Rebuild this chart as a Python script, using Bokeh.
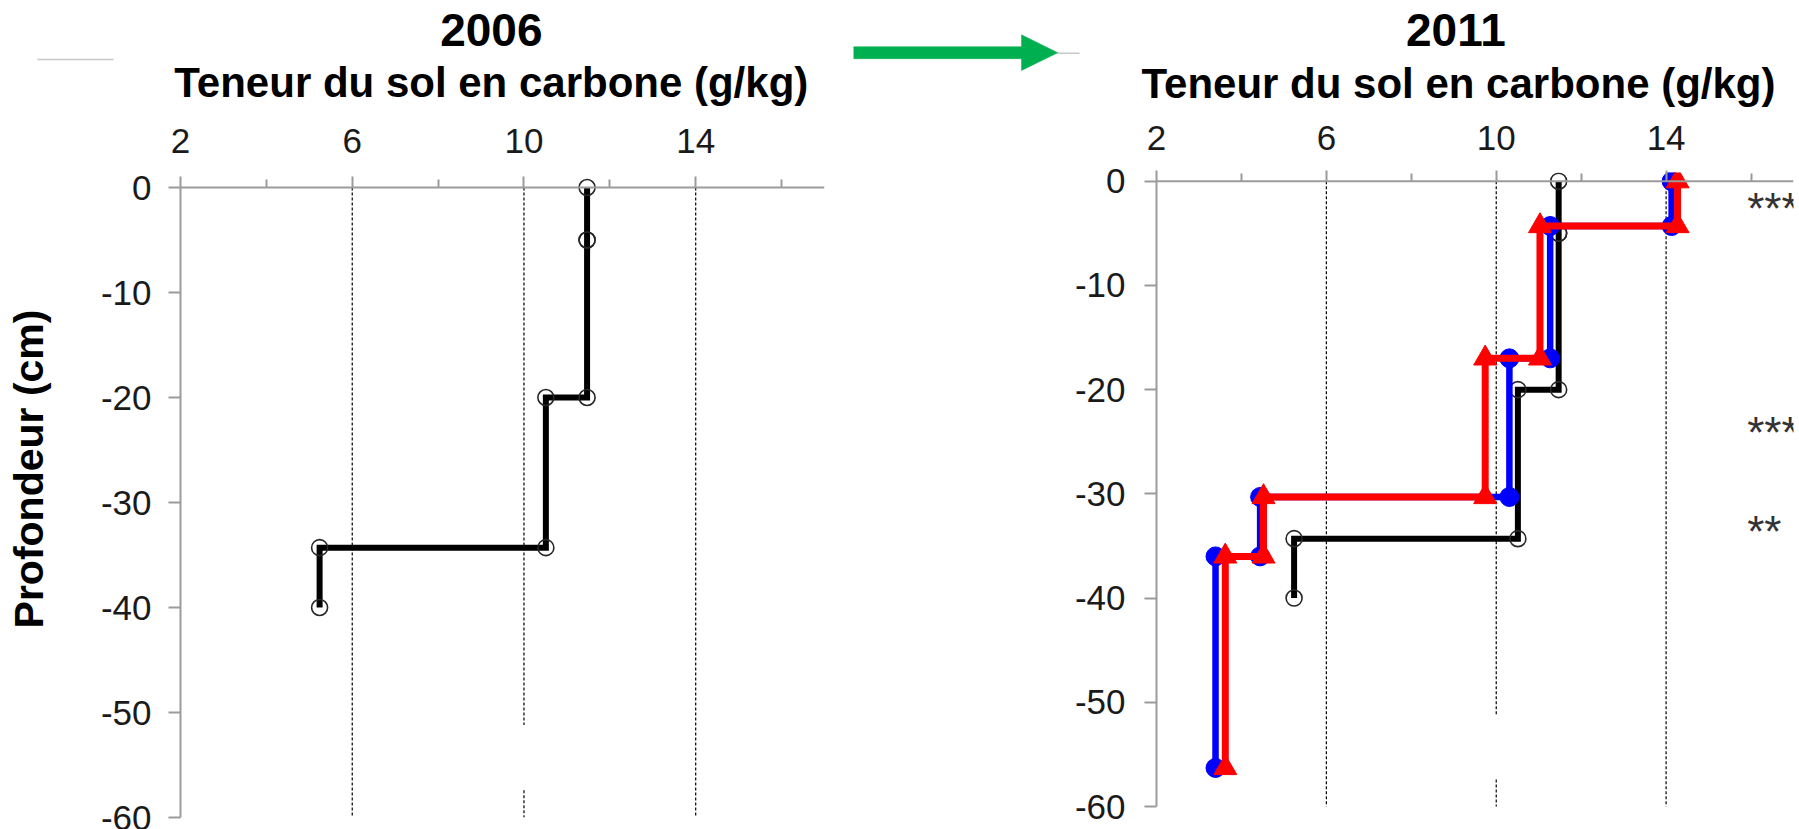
import math
from bokeh.plotting import figure
from bokeh.models import Range1d, FixedTicker, Span
from bokeh.layouts import row, column
from bokeh.embed import file_html
from bokeh.resources import INLINE
from bokeh.core.properties import value

# ---------------- data ----------------
panel_titles = ["2006", "2011"]
x_axis_title = "Teneur du sol en carbone (g/kg)"
y_axis_title = "Profondeur (cm)"
x_ticks = [2, 6, 10, 14]
x_tick_labels = ["2", "6", "10", "14"]
x_minor_ticks = [4, 8, 12, 16]
y_ticks = [0, -10, -20, -30, -40, -50, -60]
y_tick_labels = ["0", "-10", "-20", "-30", "-40", "-50", "-60"]
grid_x = [6, 10, 14]

# 2006 reference profile (black, open circles): layer top/bottom depth (cm), carbon (g/kg)
ref_top = [0, 5, 20, 34.3]
ref_bottom = [5, 20, 34.3, 40]
ref_carbon = [11.47, 11.47, 10.51, 5.24]

# 2011 profiles (blue circles, red triangles), shared layers
new_top = [0, 4.3, 17, 30.3, 36]
new_bottom = [4.3, 17, 30.3, 36, 56.3]
blue_carbon = [14.13, 11.27, 10.31, 4.44, 3.39]
red_carbon = [14.27, 11.03, 9.74, 4.52, 3.62]

# significance marks (2011)
sig_depth = [2.2, 23.7, 33.2]
sig_labels = ["***", "***", "**"]

# ---------------- styling / layout ----------------
W, H = 1799, 829
HEAD_H = 107          # header strip with titles and arrow
YLAB_W = 62           # strip with the vertical axis title
P2_LEFT = 1060        # page x where the 2011 panel starts
FR_TOP, FR_BOT = 172, 817   # common frame top / bottom (page px) of the panels row
PANEL_H = H - HEAD_H
B_TOP, B_BOT = FR_TOP - HEAD_H, H - FR_BOT
AXIS_GRAY = "#9b9b9b"
TICK_COLOR = "#1a1a1a"
FONT = "Liberation Sans"


def steps(top, bottom, carbon):
    xs, ys = [], []
    for t, b, c in zip(top, bottom, carbon):
        xs += [c, c]
        ys += [-t, -b]
    return xs, ys


def blank_fig(width, height, x0, x1, y0, y1, b_top=0, b_bot=0):
    f = figure(width=width, height=height, x_range=Range1d(x0, x1), y_range=Range1d(y0, y1),
               x_axis_type=None, y_axis_type=None, title=None, output_backend="svg",
               toolbar_location=None, min_border=0, min_border_top=b_top, min_border_bottom=b_bot)
    f.outline_line_color = None
    f.grid.visible = False
    f.background_fill_color = "white"
    f.border_fill_color = "white"
    return f


def make_panel(width, b_left, b_right, zero_pg, m60_pg, label_baseline_pg, ylab_standoff):
    k = (m60_pg - zero_pg) / 60.0              # px per cm
    y_start = -60 - (FR_BOT - m60_pg) / k
    y_end = (zero_pg - FR_TOP) / k
    ext = int(round(zero_pg - FR_TOP))
    p = figure(width=width, height=PANEL_H, x_range=Range1d(2, 17), y_range=Range1d(y_start, y_end),
               x_axis_location="above", title=None, output_backend="svg", toolbar_location=None,
               min_border_left=b_left, min_border_right=b_right,
               min_border_top=B_TOP, min_border_bottom=B_BOT)
    p.outline_line_color = None
    p.grid.visible = False
    p.background_fill_color = "white"
    p.border_fill_color = "white"

    xa = p.xaxis[0]
    xa.ticker = FixedTicker(ticks=x_ticks, minor_ticks=x_minor_ticks)
    xa.major_label_overrides = dict(zip(x_ticks, x_tick_labels))
    xa.axis_line_color = None
    xa.major_tick_in = ext
    xa.major_tick_out = 11 - ext
    xa.minor_tick_in = ext
    xa.minor_tick_out = 8 - ext
    xa.major_tick_line_color = AXIS_GRAY
    xa.minor_tick_line_color = AXIS_GRAY
    xa.major_tick_line_width = 2
    xa.minor_tick_line_width = 2
    xa.major_label_text_font = FONT
    xa.major_label_text_font_size = "35px"
    xa.major_label_text_color = TICK_COLOR
    dist = FR_TOP + 2 - label_baseline_pg
    xa.major_label_standoff = int(round(dist - (11 - ext)))

    ya = p.yaxis[0]
    ya.ticker = FixedTicker(ticks=y_ticks, minor_ticks=[])
    ya.major_label_overrides = dict(zip(y_ticks, y_tick_labels))
    ya.bounds = (-60, 0)
    ya.axis_line_color = AXIS_GRAY
    ya.axis_line_width = 2
    ya.major_tick_in = 0
    ya.major_tick_out = 12
    ya.major_tick_line_color = AXIS_GRAY
    ya.major_tick_line_width = 2
    ya.minor_tick_line_color = None
    ya.major_label_text_font = FONT
    ya.major_label_text_font_size = "35px"
    ya.major_label_text_color = TICK_COLOR
    ya.major_label_standoff = ylab_standoff

    # zero line (the x axis line of the original sits at depth 0)
    p.add_layout(Span(location=0, dimension="width", line_color=AXIS_GRAY, line_width=2))

    # dashed vertical grid lines (the one at 10 is interrupted in the original)
    x0, y0, x1, y1 = [], [], [], []
    for g in grid_x:
        if g == 10:
            x0 += [g, g]; x1 += [g, g]
            y0 += [0, -57.4]; y1 += [-51.2, -60]
        else:
            x0.append(g); x1.append(g); y0.append(0); y1.append(-60)
    p.segment(x0=x0, y0=y0, x1=x1, y1=y1, line_color="black", line_width=1.2, line_dash="3 2")
    return p, k


def draw_ref(p):
    rx, ry = steps(ref_top, ref_bottom, ref_carbon)
    p.line(rx, ry, line_color="black", line_width=6, line_join="miter")
    p.scatter(rx, ry, marker="circle", size=16, fill_color=None, line_color="#262626", line_width=1.6)


# ---------------- panel 2006 ----------------
p1, k1 = make_panel(P2_LEFT - YLAB_W, 180 - YLAB_W, P2_LEFT - 824, 187, 817, 154.3, 17)
draw_ref(p1)

# ---------------- panel 2011 ----------------
p2, k2 = make_panel(W - P2_LEFT, 1156 - P2_LEFT, W - 1793, 180.7, 806, 150.7, 19)
draw_ref(p2)

bx, by = steps(new_top, new_bottom, blue_carbon)
p2.line(bx, by, line_color="#0000FF", line_width=6.5, line_join="miter")
p2.scatter(bx, by, marker="circle", size=19, fill_color="#0000FF", line_color="#0000FF")

rx, ry = steps(new_top, new_bottom, red_carbon)
p2.line(rx, ry, line_color="#FF0000", line_width=7, line_join="miter")
p2.scatter(rx, ry, marker="triangle", size=23, fill_color="#FF0000", line_color="#FF0000")

star_shift = 4.0 / k2
p2.text(x=[15.91] * len(sig_labels), y=[-d - star_shift for d in sig_depth], text=sig_labels,
        text_font=value(FONT), text_font_size="44px", text_color="#333333",
        text_align="left", text_baseline="middle")

# ---------------- header strip (page pixel coordinates, y downward) ----------------
head = blank_fig(W, HEAD_H, 0, W, HEAD_H, 0)
head.segment(x0=[37, 1057], y0=[59, 52.7], x1=[113, 1079], y1=[59, 52.7],
             line_color="#c8c8c8", line_width=1.5)
arrow_px = [853.3, 1021, 1021, 1057.3, 1021, 1021, 853.3]
arrow_py = [46.2, 46.2, 34.3, 52.2, 70.0, 58.2, 58.2]
head.patch(arrow_px, arrow_py, fill_color="#00B050", line_color="#00B050", line_width=0.5)
# text anchors: middle of the text box (baseline - 0.38 em)
head.text(x=[490.8, 1455.4], y=[46.7 - 0.38 * 46, 46.7 - 0.38 * 46], text=panel_titles,
          text_font=value(FONT), text_font_style="bold", text_font_size="46px",
          text_color="black", text_align="center", text_baseline="middle")
head.text(x=[490.8, 1458], y=[98.3 - 0.38 * 42, 99.3 - 0.38 * 42], text=[x_axis_title, x_axis_title],
          text_font=value(FONT), text_font_style="bold", text_font_size="42px",
          text_color="black", text_align="center", text_baseline="middle")

# ---------------- vertical axis title strip (page pixel coordinates) ----------------
ylab = blank_fig(YLAB_W, PANEL_H, 0, YLAB_W, FR_BOT, FR_TOP, b_top=B_TOP, b_bot=B_BOT)
ylab.text(x=[28], y=[468.5], text=[y_axis_title], angle=math.pi / 2,
          text_font=value(FONT), text_font_style="bold", text_font_size="41px",
          text_color="black", text_align="center", text_baseline="middle")

layout = column(head, row(ylab, p1, p2))
open("out.html", "w").write(file_html(layout, INLINE))
